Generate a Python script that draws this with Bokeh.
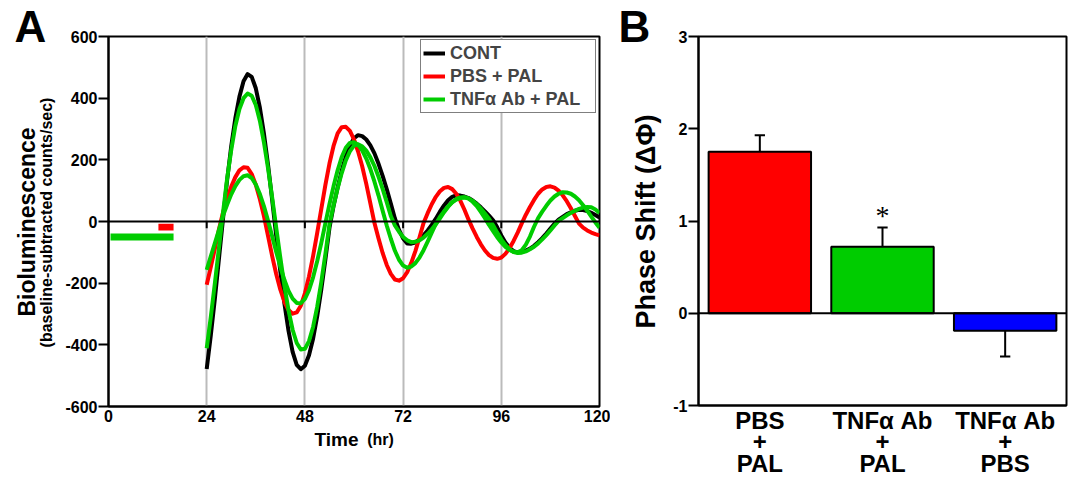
import math
from bokeh.plotting import figure
from bokeh.layouts import row, column
from bokeh.models import Range1d, FixedTicker, Legend, LegendItem, Label, Span
from bokeh.embed import file_html
from bokeh.resources import INLINE

# ---------------- Panel A data ----------------
hours = list(range(24, 121))
cont = [-478, -370, -250, -120, 10, 135, 245, 335, 405, 455,
        478, 469, 432, 369, 284, 183, 70, -47, -162, -267,
        -355, -423, -465, -479, -468, -434, -380, -308, -221, -124,
        -21, 50, 110, 165, 211, 246, 270, 280, 277, 266,
        247, 221, 187, 148, 105, 58, 10, -27, -55, -71,
        -72, -68, -58, -45, -29, -11, 9, 32, 52, 69,
        80, 85, 84, 81, 76, 68, 58, 46, 33, 19,
        4, -19, -45, -68, -85, -96, -100, -99, -94, -88,
        -79, -67, -54, -39, -23, -7, 6, 15, 24, 30,
        35, 38, 37, 34, 28, 21, 13]
pbs_pal = [-205, -148, -88, -25, 30, 75, 113, 144, 166, 176,
           174, 154, 119, 72, 17, -47, -112, -171, -221, -261,
           -287, -299, -295, -273, -233, -178, -112, -38, 40, 118,
           188, 245, 286, 306, 307, 294, 266, 227, 179, 122,
           59, -5, -55, -102, -141, -170, -188, -192, -184, -164,
           -134, -96, -52, -5, 27, 56, 80, 98, 109, 112,
           105, 90, 67, 38, 6, -23, -50, -74, -94, -109,
           -118, -121, -117, -105, -87, -63, -36, -6, 22, 47,
           70, 90, 104, 112, 114, 110, 100, 85, 66, 43,
           18, -7, -20, -29, -36, -41, -45]
tnf_ab_pal_a = [-411, -310, -200, -85, 30, 140, 232, 310, 365, 400,
                415, 408, 378, 326, 256, 172, 78, -21, -118, -209,
                -288, -351, -394, -415, -413, -388, -342, -277, -197, -106,
                -10, 52, 108, 157, 198, 228, 246, 250, 244, 230,
                208, 180, 145, 106, 63, 18, -13, -33, -50, -61,
                -67, -66, -61, -52, -40, -25, -9, 10, 30, 48,
                63, 73, 78, 79, 75, 67, 56, 42, 26, 9,
                -12, -36, -58, -76, -90, -99, -102, -101, -97, -90,
                -82, -71, -58, -44, -29, -13, 2, 11, 20, 28,
                35, 41, 45, 47, 46, 39, 28]
tnf_ab_pal_b = [-157, -113, -70, -27, 19, 55, 88, 115, 135, 147,
                150, 141, 120, 89, 49, 2, -48, -99, -147, -190,
                -225, -250, -264, -265, -251, -223, -181, -129, -70, -6,
                56, 114, 166, 209, 239, 255, 257, 249, 231, 204,
                170, 129, 84, 35, -13, -56, -95, -124, -143, -150,
                -146, -135, -117, -93, -65, -36, -8, 15, 33, 49,
                62, 71, 76, 78, 74, 64, 50, 31, 11, -11,
                -31, -51, -68, -82, -92, -98, -100, -93, -75, -49,
                -17, 11, 32, 51, 68, 81, 90, 95, 94, 90,
                81, 69, 53, 35, 16, -3, -20]

pal_window_hr = [12.2, 15.9]
tnf_window_hr = [0.5, 15.9]

x_ticks_a = [0, 24, 48, 72, 96, 120]
x_tick_labels_a = ["0", "24", "48", "72", "96", "120"]
y_ticks_a = [-600, -400, -200, 0, 200, 400, 600]
y_tick_labels_a = ["-600", "-400", "-200", "0", "200", "400", "600"]
day_marks = [24, 48, 72, 96]

legend_names = ["CONT", "PBS + PAL", "TNF\u03b1 Ab + PAL"]

# ---------------- Panel B data ----------------
groups = ["PBS\n+\nPAL", "TNF\u03b1 Ab\n+\nPAL", "TNF\u03b1 Ab\n+\nPBS"]
phase_shift = [1.75, 0.72, -0.19]
phase_sem = [0.18, 0.21, 0.28]
significant = [False, True, False]
bar_colors = ["#FF0000", "#00CC00", "#0000FF"]
y_ticks_b = [-1, 0, 1, 2, 3]
y_tick_labels_b = ["-1", "0", "1", "2", "3"]

FONT = "Liberation Sans"
GREEN = "#00CC00"
RED = "#FF0000"
H = 479
HA = 428


def style_axis(ax, ticks, labels, tick_out, standoff, size="16px"):
    ax.ticker = FixedTicker(ticks=ticks)
    ax.major_label_overrides = {t: l for t, l in zip(ticks, labels)}
    ax.axis_line_width = 2
    ax.axis_line_color = "black"
    ax.major_tick_line_width = 2
    ax.major_tick_line_color = "black"
    ax.major_tick_out = tick_out
    ax.major_tick_in = 0
    ax.minor_tick_line_color = None
    ax.major_label_standoff = standoff
    ax.major_label_text_font = FONT
    ax.major_label_text_font_style = "bold"
    ax.major_label_text_font_size = size
    ax.major_label_text_color = "black"


def aux_fig(w, h):
    f = figure(width=w, height=h, x_range=Range1d(0, w), y_range=Range1d(0, h),
               x_axis_type=None, y_axis_type=None, output_backend="svg",
               toolbar_location=None, min_border=0)
    if "frame_align" in f.properties():
        f.frame_align = False
    f.outline_line_color = None
    f.background_fill_color = "white"
    f.border_fill_color = "white"
    return f


def add_label(p, text, x, y, size, **kw):
    opts = dict(text_font=FONT, text_font_style="bold", text_font_size=size,
                text_color="black", text_align="center", text_baseline="middle")
    opts.update(kw)
    p.add_layout(Label(x=x, y=y, text=text, **opts))


# ---------------- Panel A ----------------
pa = figure(width=548, height=HA, x_range=Range1d(0, 120), y_range=Range1d(-600, 600),
            output_backend="svg", toolbar_location=None,
            min_border_left=45, min_border_right=11, min_border_top=36, min_border_bottom=22)
pa.background_fill_color = "white"
pa.border_fill_color = "white"
pa.outline_line_color = "black"
pa.outline_line_width = 2
style_axis(pa.yaxis[0], y_ticks_a, y_tick_labels_a, 10, 1)
style_axis(pa.xaxis[0], x_ticks_a, x_tick_labels_a, 0, 3)
pa.ygrid.grid_line_color = None
pa.xgrid.ticker = FixedTicker(ticks=day_marks)
pa.xgrid.grid_line_color = "#BBBBBB"
pa.xgrid.grid_line_width = 2

pa.add_layout(Span(location=0, dimension="width", line_color="black", line_width=2))
pa.segment(x0=day_marks, y0=[0] * len(day_marks), x1=day_marks, y1=[-22] * len(day_marks),
           line_color="black", line_width=2)

pa.quad(left=[pal_window_hr[0]], right=[pal_window_hr[1]], top=[-7], bottom=[-29],
        fill_color=RED, line_color=None)
pa.quad(left=[tnf_window_hr[0]], right=[tnf_window_hr[1]], top=[-39], bottom=[-62],
        fill_color=GREEN, line_color=None)

r_cont = pa.line(hours, cont, line_color="black", line_width=4, line_join="round")
r_pbs = pa.line(hours, pbs_pal, line_color=RED, line_width=4, line_join="round")
r_tnf_a = pa.line(hours, tnf_ab_pal_a, line_color=GREEN, line_width=4, line_join="round")
r_tnf_b = pa.line(hours, tnf_ab_pal_b, line_color=GREEN, line_width=4, line_join="round")

legend = Legend(items=[LegendItem(label=legend_names[0], renderers=[r_cont]),
                       LegendItem(label=legend_names[1], renderers=[r_pbs]),
                       LegendItem(label=legend_names[2], renderers=[r_tnf_a])],
                location="top_right")
legend.border_line_color = "black"
legend.border_line_width = 1.5
legend.background_fill_color = "white"
legend.background_fill_alpha = 1
legend.label_text_font = FONT
legend.label_text_font_style = "bold"
legend.label_text_font_size = "18px"
legend.glyph_width = 22
legend.glyph_height = 22
legend.label_height = 22
legend.label_width = 143
legend.label_standoff = 5
legend.padding = 2
legend.spacing = 1
legend.margin = 3
pa.add_layout(legend)

# side strips holding panel A's outer texts
aux_a = aux_fig(62, H)
add_label(aux_a, "A", 30, 453, "44px")
add_label(aux_a, "Bioluminescence", 26.7, 257.5, "23px", angle=math.pi / 2)
add_label(aux_a, "(baseline-subtracted counts/sec)", 46.3, 257, "16px", angle=math.pi / 2)

aux_t = aux_fig(548, H - HA)
add_label(aux_t, "Time", 296, 40.5, "19px", text_align="right")
add_label(aux_t, "(hr)", 304.7, 40.5, "16px", text_align="left")

# ---------------- Panel B ----------------
pb = figure(width=402, height=H, x_range=Range1d(0, len(groups)), y_range=Range1d(-1, 3),
            output_backend="svg", toolbar_location=None,
            min_border_left=27, min_border_right=6, min_border_top=36, min_border_bottom=73)
pb.background_fill_color = "white"
pb.border_fill_color = "white"
pb.outline_line_color = "black"
pb.outline_line_width = 2
style_axis(pb.yaxis[0], y_ticks_b, y_tick_labels_b, 10, 1)
xs = [i + 0.5 for i in range(len(groups))]
style_axis(pb.xaxis[0], xs, groups, 0, 1, size="24px")
pb.xaxis[0].major_tick_line_color = None
pb.xaxis[0].major_label_text_line_height = 0.8
pb.xgrid.grid_line_color = None
pb.ygrid.grid_line_color = None

pb.vbar(x=xs, top=phase_shift, bottom=0, width=0.835, fill_color=bar_colors,
        line_color="black", line_width=2)
tips = [m + s if m >= 0 else m - s for m, s in zip(phase_shift, phase_sem)]
pb.segment(x0=xs, y0=phase_shift, x1=xs, y1=tips, line_color="black", line_width=2)
pb.segment(x0=[x - 0.042 for x in xs], y0=tips, x1=[x + 0.042 for x in xs], y1=tips,
           line_color="black", line_width=2)
pb.add_layout(Span(location=0, dimension="width", line_color="black", line_width=2))

for x, tip, sig in zip(xs, tips, significant):
    if sig:
        add_label(pb, "*", x, tip, "28px", text_font="Liberation Serif",
                  text_font_style="normal", y_offset=12)

aux_b = aux_fig(60, H)
add_label(aux_b, "B", 24, 453, "44px")
add_label(aux_b, "Phase Shift (\u0394\u03a6)", 35, 258, "27px", angle=math.pi / 2)

layout = row(aux_a, column(pa, aux_t), aux_b, pb)
open("out.html", "w").write(file_html(layout, INLINE))
